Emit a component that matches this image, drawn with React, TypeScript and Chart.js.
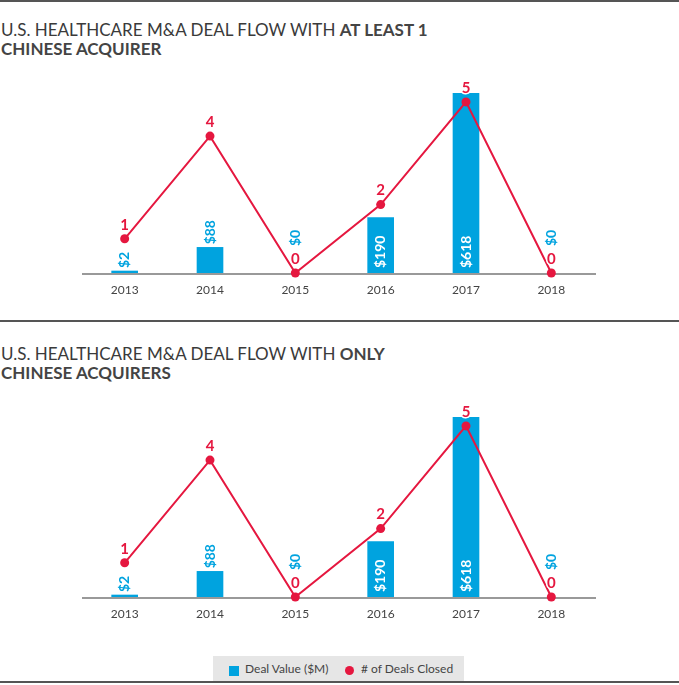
import React, { useEffect, useRef } from "react";
import { Chart, registerables } from "chart.js";

Chart.register(...registerables);

const YEARS = ["2013", "2014", "2015", "2016", "2017", "2018"];
const DEAL_VALUE_AT_LEAST_ONE = [2, 88, 0, 190, 618, 0];
const DEALS_CLOSED_AT_LEAST_ONE = [1, 4, 0, 2, 5, 0];
const DEAL_VALUE_ONLY = [2, 88, 0, 190, 618, 0];
const DEALS_CLOSED_ONLY = [1, 4, 0, 2, 5, 0];

const BAR_AXIS_MAX = 618;
const LINE_AXIS_MAX = 5.26;

const BLUE = "#00a3df";
const RED = "#e5173f";
const TEXT = "#444444";
const FONT = "Lato, 'Open Sans', sans-serif";

const labelPlugin = {
  id: "valueLabels",
  beforeDatasetDraw(chart: any, args: any) {
    const ds = chart.data.datasets[args.index];
    if (ds.type !== "line") return;
    const { ctx, chartArea } = chart;
    ctx.save();
    ctx.fillStyle = "#999999";
    ctx.fillRect(chartArea.left, chartArea.bottom, chartArea.right - chartArea.left + 2, 2);
    ctx.restore();
  },
  afterDatasetsDraw(chart: any) {
    const { ctx } = chart;
    const barIdx = chart.data.datasets.findIndex((d: any) => d.type === "bar");
    const lineIdx = chart.data.datasets.findIndex((d: any) => d.type === "line");
    const barMeta = chart.getDatasetMeta(barIdx);
    const lineMeta = chart.getDatasetMeta(lineIdx);
    const barData = chart.data.datasets[barIdx].data;
    const lineData = chart.data.datasets[lineIdx].data;

    ctx.save();
    ctx.font = `bold 15px ${FONT}`;
    ctx.textAlign = "center";
    ctx.textBaseline = "middle";
    lineMeta.data.forEach((pt: any, i: number) => {
      const t = String(lineData[i]);
      ctx.lineWidth = 3;
      ctx.strokeStyle = "#ffffff";
      ctx.strokeText(t, pt.x, pt.y - 14);
      ctx.fillStyle = RED;
      ctx.fillText(t, pt.x, pt.y - 14);
    });
    ctx.restore();

    ctx.save();
    ctx.font = `bold 14px ${FONT}`;
    ctx.textBaseline = "middle";
    ctx.textAlign = "left";
    barMeta.data.forEach((bar: any, i: number) => {
      const t = "$" + barData[i];
      const w = ctx.measureText(t).width;
      const h = bar.base - bar.y;
      let start: number;
      let color: string;
      if (h > w + 12) {
        start = bar.base - 5;
        color = "#ffffff";
      } else {
        start = bar.y - 3;
        color = BLUE;
        const pt = lineMeta.data[i];
        if (pt && Math.abs(pt.x - bar.x) < 10) {
          const top = start - w;
          if (pt.y + 7 > top && pt.y - 7 < start) {
            start = pt.y - 14 - 9 - 4;
          }
        }
      }
      ctx.save();
      ctx.translate(bar.x, start);
      ctx.rotate(-Math.PI / 2);
      ctx.fillStyle = color;
      ctx.fillText(t, 0, 0);
      ctx.restore();
    });
    ctx.restore();
  },
};

function ComboChart({ values, counts }: { values: number[]; counts: number[] }) {
  const ref = useRef<HTMLCanvasElement | null>(null);
  useEffect(() => {
    if (!ref.current) return;
    const chart = new Chart(ref.current, {
      data: {
        labels: YEARS,
        datasets: [
          {
            type: "line",
            label: "# of Deals Closed",
            data: counts,
            yAxisID: "y2",
            borderColor: RED,
            borderWidth: 2,
            pointRadius: 4.5,
            pointBackgroundColor: RED,
            pointBorderWidth: 0,
            tension: 0,
            clip: false,
            order: 0,
          } as any,
          {
            type: "bar",
            label: "Deal Value ($M)",
            data: values,
            yAxisID: "y",
            backgroundColor: (c: any) => (c.raw === 0 ? "rgba(0,0,0,0)" : BLUE),
            barThickness: 26,
            minBarLength: 2,
            order: 1,
          } as any,
        ],
      },
      options: {
        animation: false,
        responsive: false,
        maintainAspectRatio: false,
        layout: { padding: { top: 33, left: 82, right: 85, bottom: 2.6 } },
        plugins: { legend: { display: false }, tooltip: { enabled: false } },
        scales: {
          x: {
            grid: { display: false, drawTicks: false },
            border: { display: false },
            ticks: { color: TEXT, font: { family: FONT, size: 12 }, padding: 10 },
          },
          y: { display: false, min: 0, max: BAR_AXIS_MAX },
          y2: { display: false, min: 0, max: LINE_AXIS_MAX, position: "right" },
        },
      },
      plugins: [labelPlugin],
    } as any);
    return () => chart.destroy();
  }, [values, counts]);
  return <canvas ref={ref} width={679} height={250} style={{ position: "absolute", left: 0, top: 60, width: 679, height: 250 }} />;
}

function Panel({ top, lead, bold, line2, values, counts }: any) {
  return (
    <div style={{ position: "absolute", left: 0, top, width: 679, height: 320 }}>
      <div
        style={{
          position: "absolute",
          left: 1,
          top: 21,
          fontFamily: FONT,
          fontSize: 17,
          lineHeight: "18.5px",
          color: TEXT,
          whiteSpace: "nowrap",
        }}
      >
        <span style={{ color: "#3a3a3a" }}>{lead}</span>
        <b>{bold}</b>
        <br />
        <b>{line2}</b>
      </div>
      <ComboChart values={values} counts={counts} />
    </div>
  );
}

export default function App() {
  return (
    <div style={{ position: "absolute", left: 0, top: 0, width: 679, height: 685, background: "#fff", overflow: "hidden" }}>
      <div style={{ position: "absolute", left: 0, top: 0, width: 679, height: 2, background: "#555" }} />
      <Panel
        top={0}
        lead="U.S. HEALTHCARE M&A DEAL FLOW WITH "
        bold="AT LEAST 1"
        line2="CHINESE ACQUIRER"
        values={DEAL_VALUE_AT_LEAST_ONE}
        counts={DEALS_CLOSED_AT_LEAST_ONE}
      />
      <div style={{ position: "absolute", left: 0, top: 320, width: 679, height: 2, background: "#555" }} />
      <Panel
        top={324}
        lead="U.S. HEALTHCARE M&A DEAL FLOW WITH "
        bold="ONLY"
        line2="CHINESE ACQUIRERS"
        values={DEAL_VALUE_ONLY}
        counts={DEALS_CLOSED_ONLY}
      />
      <div style={{ position: "absolute", left: 213, top: 656, width: 251, height: 25, background: "#e6e6e6", fontFamily: FONT, fontSize: 12, color: TEXT }}>
        <div style={{ position: "absolute", left: 16, top: 10, width: 10, height: 10, background: BLUE }} />
        <div style={{ position: "absolute", left: 32, top: 5, lineHeight: "15px", whiteSpace: "nowrap" }}>Deal Value ($M)</div>
        <div style={{ position: "absolute", left: 131.5, top: 9.5, width: 9, height: 9, borderRadius: "50%", background: RED }} />
        <div style={{ position: "absolute", left: 148, top: 5, lineHeight: "15px", whiteSpace: "nowrap" }}>
          # of Deals Closed
        </div>
      </div>
      <div style={{ position: "absolute", left: 0, top: 681, width: 679, height: 2, background: "#555" }} />
    </div>
  );
}
